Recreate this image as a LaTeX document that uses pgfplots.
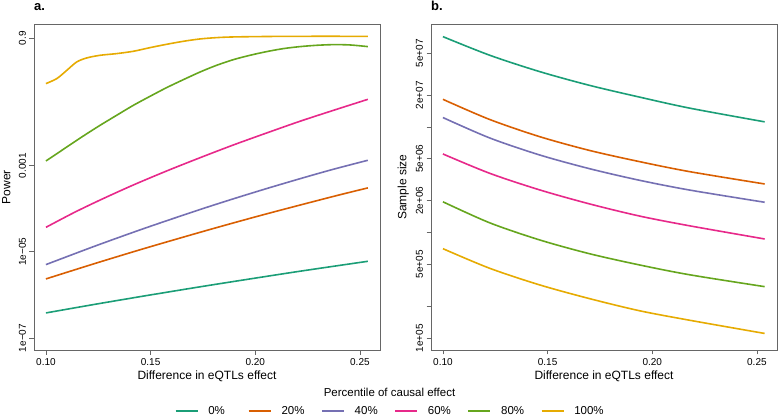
\documentclass[border=0pt]{standalone}
\usepackage{fontspec}
\setmainfont{Liberation Sans}
\usepackage{pgfplots}
\pgfplotsset{compat=1.18}

% Dark2 palette
\definecolor{pzero}{HTML}{1B9E77}
\definecolor{ptwenty}{HTML}{D95F02}
\definecolor{pforty}{HTML}{7570B3}
\definecolor{psixty}{HTML}{E7298A}
\definecolor{peighty}{HTML}{66A61E}
\definecolor{phundred}{HTML}{E6AB02}

\pgfplotsset{
  every axis/.append style={
    scale only axis, width=346pt, height=326pt,
    xmin=0.0943, xmax=0.2596,
    axis line style={black!60, line width=0.8pt},
    tick style={black!60, line width=0.8pt},
    tick align=outside, major tick length=4.5pt,
    tick pos=left,
    xtick={0.10,0.15,0.20,0.25}, xticklabels={0.10,0.15,0.20,0.25},
    tick label style={font=\fontsize{10}{12}\selectfont},
    yticklabel style={rotate=90, anchor=south},
    label style={font=\fontsize{12}{14}\selectfont},
  },
  every axis x label/.style={at={(axis description cs:0.5,-0.090)}, anchor=base},
  every axis y label/.style={at={(axis description cs:-0.080,0.5)}, rotate=90, anchor=center},
  every axis plot/.append style={line width=1.6pt, smooth},
}

\begin{document}
\begin{tikzpicture}[x=1pt,y=1pt]
\path[use as bounding box] (0,0) rectangle (779,416);

% ---- a. power ----
\begin{semilogyaxis}[at={(34pt,66pt)}, anchor=south west,
  ymin=5.27e-8, ymax=1.93, yminorticks=false,
  ytick={1e-7,1e-5,1e-3,0.9}, yticklabels={1e−07,1e−05,0.001,0.9},
  xlabel={Difference in eQTLs effect}, ylabel={Power},
  legend columns=6,
  legend image code/.code={\draw[#1] (0pt,0pt) -- (22pt,0pt);},
  legend style={at={(axis description cs:1.0275,-0.1871)}, anchor=center,
    draw=none, fill=none, inner sep=0pt, font=\fontsize{11.5}{13}\selectfont,
    nodes={inner sep=0pt},
    /tikz/every odd column/.append style={column sep=10pt},
    /tikz/every even column/.append style={column sep=9.6pt}},
]
\addplot[pzero] coordinates {
  (0.1000,3.82e-7) (0.1250,6.24e-7) (0.1500,1.00e-6) (0.1781,1.67e-6)
  (0.2131,3.08e-6) (0.2300,4.09e-6) (0.2538,6.03e-6)
};
\addplot[ptwenty] coordinates {
  (0.1000,2.35e-6) (0.1240,5.47e-6) (0.1479,1.23e-5) (0.1781,3.27e-5)
  (0.2052,7.55e-5) (0.2370,1.91e-4) (0.2538,3.04e-4)
};
\addplot[pforty] coordinates {
  (0.1000,5.05e-6) (0.1240,1.39e-5) (0.1479,3.62e-5) (0.1733,9.46e-5)
  (0.1896,1.70e-4) (0.2052,2.91e-4) (0.2214,4.97e-4) (0.2370,8.15e-4)
  (0.2538,1.33e-3)
};
\addplot[psixty] coordinates {
  (0.1000,3.70e-5) (0.1135,8.17e-5) (0.1267,1.66e-4) (0.1418,3.56e-4)
  (0.1577,7.52e-4) (0.1737,1.53e-3) (0.1896,3.02e-3) (0.2055,5.73e-3)
  (0.2214,1.07e-2) (0.2374,1.92e-2) (0.2538,3.45e-2)
};
\addplot[peighty] coordinates {
  (0.1000,1.28e-3) (0.1100,2.71e-3) (0.1179,4.88e-3) (0.1259,8.63e-3)
  (0.1338,1.472e-2) (0.1418,2.51e-2) (0.1498,4.07e-2) (0.1577,6.46e-2)
  (0.1657,0.0989) (0.1737,0.149) (0.1816,0.213) (0.1896,0.288)
  (0.1975,0.363) (0.2055,0.442) (0.2135,0.519) (0.2214,0.577)
  (0.2294,0.619) (0.2374,0.641) (0.2453,0.630) (0.2538,0.577)
};
\addplot[phundred] coordinates {
  (0.1000,0.0800) (0.1052,0.1045) (0.1100,0.163) (0.1147,0.254)
  (0.1195,0.315) (0.1259,0.363) (0.1338,0.397) (0.1418,0.450)
  (0.1498,0.547) (0.1577,0.653) (0.1657,0.767) (0.1737,0.869)
  (0.1816,0.933) (0.1896,0.967) (0.2055,0.990) (0.2214,1.0) (0.2538,1.0)
};
\legend{\makebox[30pt][l]{0\%},\makebox[30pt][l]{20\%},\makebox[30pt][l]{40\%},
  \makebox[30pt][l]{60\%},\makebox[30pt][l]{80\%},\makebox[30pt][l]{100\%}}
\end{semilogyaxis}

% ---- b. sample size ----
\begin{semilogyaxis}[at={(431pt,66pt)}, anchor=south west,
  ymin=7.74e4, ymax=9.46e7, yminorticks=false,
  ytick={1e5,2e5,5e5,1e6,2e6,5e6,1e7,2e7,5e7},
  yticklabels={1e+05,,5e+05,,2e+06,5e+06,,2e+07,5e+07},
  xlabel={Difference in eQTLs effect}, ylabel={Sample size},
]
\addplot[pzero] coordinates {
  (0.1000,7.18e7) (0.1223,4.79e7) (0.1462,3.35e7) (0.1701,2.48e7)
  (0.1940,1.92e7) (0.2179,1.51e7) (0.2537,1.12e7)
};
\addplot[ptwenty] coordinates {
  (0.1000,1.83e7) (0.1223,1.18e7) (0.1462,8.11e6) (0.1701,6.00e6)
  (0.1940,4.70e6) (0.2179,3.78e6) (0.2537,2.89e6)
};
\addplot[pforty] coordinates {
  (0.1000,1.23e7) (0.1223,7.89e6) (0.1462,5.44e6) (0.1701,4.03e6)
  (0.1940,3.13e6) (0.2179,2.53e6) (0.2537,1.94e6)
};
\addplot[psixty] coordinates {
  (0.1000,5.56e6) (0.1223,3.65e6) (0.1462,2.54e6) (0.1701,1.87e6)
  (0.1940,1.435e6) (0.2179,1.16e6) (0.2537,8.71e5)
};
\addplot[peighty] coordinates {
  (0.1000,1.96e6) (0.1223,1.24e6) (0.1462,8.53e5) (0.1701,6.31e5)
  (0.1940,4.94e5) (0.2179,3.99e5) (0.2537,3.08e5)
};
\addplot[phundred] coordinates {
  (0.1000,7.05e5) (0.1223,4.60e5) (0.1462,3.20e5) (0.1701,2.37e5)
  (0.1940,1.82e5) (0.2179,1.48e5) (0.2537,1.11e5)
};
\end{semilogyaxis}

\node[anchor=base west, inner sep=0pt, font=\fontsize{13}{15}\selectfont\bfseries] at (34,405) {a.};
\node[anchor=base west, inner sep=0pt, font=\fontsize{13}{15}\selectfont\bfseries] at (431,405) {b.};
\node[anchor=base, inner sep=0pt, font=\fontsize{11.5}{13}\selectfont] at (389.5,20) {Percentile of causal effect};
\end{tikzpicture}
\end{document}
